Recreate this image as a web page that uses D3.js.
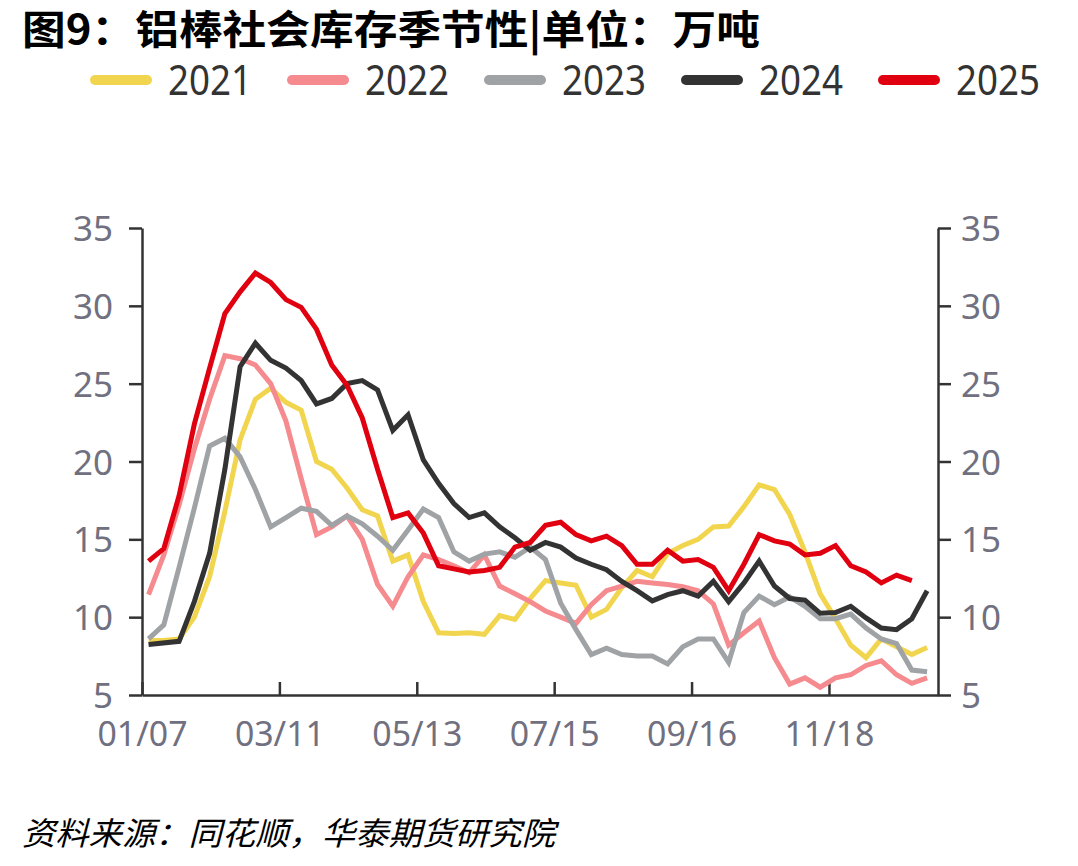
<!DOCTYPE html>
<html>
<head>
<meta charset="utf-8">
<script src="https://cdn.jsdelivr.net/npm/d3@7"></script>
<style>
  body { margin: 0; background: #fff; }
  svg { display: block; }
  .tick text { font-family: "Noto Sans", sans-serif; font-size: 35px; fill: #707080; }
</style>
</head>
<body>
<div id="chart"></div>
<script>
// weekly data, 万吨 (null = no reading that week)
const years = ["2021", "2022", "2023", "2024", "2025"];
const colors = ["#F2D54E", "#F58A8F", "#A0A3A6", "#333333", "#E0000F"];

const v2021 = [8.5, 8.5, 8.6, 10.0, 12.6, 16.8, 21.4, 24.0, 24.7, 23.8, 23.3, 20.0, 19.5, 18.3, 16.9, 16.5, 13.6, 14.0, 11.0, 9.0, 8.95, 9.0, 8.9, 10.1, 9.85, 11.2, 12.35, 12.2, 12.05, 10.0, 10.5, 11.9, 13.0, 12.6, 14.1, 14.6, 15.0, 15.8, 15.85, 17.1, 18.5, 18.2, 16.6, 14.2, 11.5, 9.9, 8.2, 7.4, 8.6, 8.1, 7.6, 8.05];
const v2022 = [11.45, 14.0, 17.2, 20.8, 24.0, 26.8, 26.6, 26.2, 25.0, 22.6, 18.9, 15.3, 15.8, 16.5, 15.0, 12.1, 10.7, 12.6, 14.0, 13.7, 13.3, 12.85, 14.0, 12.0, 11.5, 11.0, 10.4, 10.0, 9.6, 10.8, 11.7, 12.0, 12.3, 12.2, 12.1, 11.95, 11.7, 10.85, 8.2, 9.0, 9.75, 7.4, 5.7, 6.1, 5.5, 6.1, 6.3, 6.9, 7.2, 6.3, 5.75, 6.1];
const v2023 = [8.6, 9.5, 13.2, 17.0, 21.0, 21.5, 20.3, 18.2, 15.8, 16.4, 17.0, 16.8, 15.9, 16.5, 16.0, 15.2, 14.3, 15.6, 16.95, 16.4, 14.2, 13.6, 14.05, 14.2, 13.85, 14.5, 13.7, 10.9, 9.2, 7.6, 8.0, 7.6, 7.5, 7.5, 7.0, 8.1, 8.6, 8.6, 7.1, 10.3, 11.35, 10.8, 11.3, 10.7, 9.9, 9.9, 10.2, 9.3, 8.6, 8.3, 6.6, 6.5];
const v2024 = [8.25, null, 8.45, 11.0, 14.1, 19.5, 26.1, 27.6, 26.5, 26.0, 25.2, 23.7, 24.05, 25.0, 25.2, 24.6, 22.0, 23.0, 20.1, 18.6, 17.3, 16.4, 16.7, 15.8, 15.1, 14.3, 14.8, 14.5, 13.8, 13.4, 13.05, 12.3, 11.7, 11.05, 11.45, 11.7, 11.35, 12.3, 11.0, 12.2, 13.6, 12.0, 11.2, 11.1, 10.25, 10.3, 10.7, 9.95, 9.3, 9.2, 9.9, 11.7];
const v2025 = [13.6, 14.4, 17.8, 22.4, 26.0, 29.5, 30.9, 32.1, 31.5, 30.4, 29.9, 28.5, 26.2, 24.9, 22.8, 19.5, 16.4, 16.7, 15.4, 13.3, 13.1, 12.9, 13.0, 13.2, 14.5, 14.8, 15.9, 16.1, 15.3, 14.9, 15.2, 14.6, 13.4, 13.4, 14.3, 13.6, 13.7, 13.2, 11.7, 13.4, 15.3, 14.9, 14.7, 14.0, 14.1, 14.6, 13.3, 12.9, 12.2, 12.7, 12.35];

const seriesValues = [v2021, v2022, v2023, v2024, v2025];
const xTickLabels = ["01/07", "03/11", "05/13", "07/15", "09/16", "11/18"];
const yTicks = [5, 10, 15, 20, 25, 30, 35];

const width = 1078, height = 866;
const plotLeft = 142, plotRight = 938, plotTop = 228, plotBottom = 695;

const svg = d3.select("#chart")
  .append("svg")
  .attr("width", width)
  .attr("height", height);

// seasonal axis on a fixed year
const parseDay = d3.timeParse("%Y/%m/%d");
const x = d3.scaleTime()
  .domain([parseDay("2023/01/07"), parseDay("2024/01/07")])
  .range([plotLeft, plotRight]);

const y = d3.scaleLinear().domain([5, 35]).range([plotBottom, plotTop]);

const firstWeek = parseDay("2023/01/10");
const weekDate = (i) => d3.timeDay.offset(firstWeek, 7 * i);

// title
svg.append("text")
  .attr("x", 22)
  .attr("y", 44)
  .attr("font-family", "'Noto Sans CJK SC', sans-serif")
  .attr("font-weight", "bold")
  .attr("font-size", 40)
  .attr("textLength", 738)
  .attr("lengthAdjust", "spacingAndGlyphs")
  .attr("fill", "#000")
  .text("图9：铝棒社会库存季节性|单位：万吨");

// legend
const legend = svg.append("g");
years.forEach((yr, k) => {
  legend.append("line")
    .attr("x1", 95 + 197 * k)
    .attr("x2", 147 + 197 * k)
    .attr("y1", 80)
    .attr("y2", 80)
    .attr("stroke", colors[k])
    .attr("stroke-width", 10)
    .attr("stroke-linecap", "round");
  legend.append("text")
    .attr("x", 168 + 197 * k)
    .attr("y", 95)
    .attr("font-family", "'Noto Sans', sans-serif")
    .attr("font-size", 42)
    .attr("textLength", 84)
    .attr("lengthAdjust", "spacingAndGlyphs")
    .attr("fill", "#333")
    .text(yr);
});

// axes
const gx = svg.append("g")
  .attr("transform", `translate(0,${plotBottom})`)
  .call(d3.axisBottom(x)
    .tickValues(xTickLabels.map((s) => parseDay("2023/" + s)))
    .tickFormat((d, i) => xTickLabels[i])
    .tickSizeInner(-13)
    .tickSizeOuter(0)
    .tickPadding(26));

const gyl = svg.append("g")
  .attr("transform", `translate(${plotLeft},0)`)
  .call(d3.axisLeft(y).tickValues(yTicks).tickSizeInner(13).tickSizeOuter(0).tickPadding(16));

const gyr = svg.append("g")
  .attr("transform", `translate(${plotRight},0)`)
  .call(d3.axisRight(y).tickValues(yTicks).tickSizeInner(13).tickSizeOuter(0).tickPadding(10));

[gx, gyl, gyr].forEach((g) => {
  g.select(".domain").attr("stroke", "#333").attr("stroke-width", 2.5);
  g.selectAll(".tick line").attr("stroke", "#333").attr("stroke-width", 2.5);
  g.selectAll(".tick text").attr("font-family", null).attr("font-size", null);
});
gx.selectAll(".tick text")
  .attr("textLength", 90)
  .attr("lengthAdjust", "spacingAndGlyphs");
[gyl, gyr].forEach((g) =>
  g.selectAll(".tick text")
    .attr("textLength", (d) => String(d).length * 20)
    .attr("lengthAdjust", "spacingAndGlyphs")
    .attr("dy", "0.36em"));

// lines
const line = d3.line()
  .x((d) => x(weekDate(d.i)))
  .y((d) => y(d.v));

seriesValues.forEach((vals, k) => {
  const pts = vals
    .map((v, i) => ({ i: i, v: v }))
    .filter((d) => d.v != null);
  svg.append("path")
    .datum(pts)
    .attr("d", line)
    .attr("fill", "none")
    .attr("stroke", colors[k])
    .attr("stroke-width", 5)
    .attr("stroke-linejoin", "miter");
});

// source
svg.append("text")
  .attr("x", 22)
  .attr("y", 845)
  .attr("font-family", "'Noto Sans CJK SC', sans-serif")
  .attr("font-style", "italic")
  .attr("font-size", 32)
  .attr("textLength", 533)
  .attr("lengthAdjust", "spacingAndGlyphs")
  .attr("fill", "#000")
  .text("资料来源：同花顺，华泰期货研究院");
</script>
</body>
</html>
